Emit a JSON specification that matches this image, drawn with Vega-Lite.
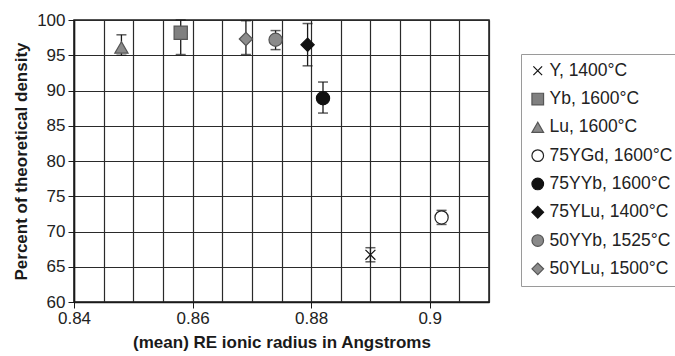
{
  "$schema": "https://vega.github.io/schema/vega-lite/v6.json",
  "autosize": {"type": "none"},
  "width": 415,
  "height": 282,
  "padding": {"left": 74, "top": 20, "right": 186, "bottom": 54},
  "background": "white",
  "config": {
    "font": "Liberation Sans",
    "view": {"stroke": "#1a1a1a", "strokeWidth": 1.5},
    "axis": {
      "labelFont": "Liberation Sans",
      "labelFontSize": 17,
      "labelColor": "#222",
      "titleFont": "Liberation Sans",
      "titleFontSize": 17,
      "titleFontWeight": "bold",
      "titleColor": "#1a1a1a",
      "domainColor": "#1a1a1a",
      "domainWidth": 1.5,
      "tickColor": "#1a1a1a",
      "tickSize": 6,
      "gridColor": "#2a2a2a",
      "gridWidth": 1.2,
      "gridOpacity": 1
    },
    "legend": {
      "labelFont": "Liberation Sans",
      "labelFontSize": 17.5,
      "labelColor": "#222"
    }
  },
  "data": {
    "values": [
      {"series": "Y, 1400°C", "x": 0.89, "y": 66.7, "lo": 65.7, "hi": 67.7},
      {"series": "Yb, 1600°C", "x": 0.858, "y": 98.2, "lo": 95.1, "hi": 100},
      {"series": "Lu, 1600°C", "x": 0.848, "y": 96.1, "lo": 95.0, "hi": 97.9},
      {"series": "75YGd, 1600°C", "x": 0.902, "y": 72.0, "lo": 71.0, "hi": 73.0},
      {"series": "75YYb, 1600°C", "x": 0.882, "y": 88.9, "lo": 86.8, "hi": 91.2},
      {"series": "75YLu, 1400°C", "x": 0.8794, "y": 96.5, "lo": 93.5, "hi": 99.5},
      {"series": "50YYb, 1525°C", "x": 0.874, "y": 97.2, "lo": 95.8, "hi": 98.5},
      {"series": "50YLu, 1500°C", "x": 0.869, "y": 97.3, "lo": 95.1, "hi": 99.9}
    ]
  },
  "encoding": {
    "x": {
      "field": "x",
      "type": "quantitative",
      "scale": {"domain": [0.84, 0.91], "nice": false, "zero": false},
      "axis": {
        "title": "(mean) RE ionic radius in Angstroms",
        "values": [0.84, 0.845, 0.85, 0.855, 0.86, 0.865, 0.87, 0.875, 0.88, 0.885, 0.89, 0.895, 0.9, 0.905, 0.91],
        "labelExpr": "abs(datum.value*50 - round(datum.value*50)) < 0.001 ? format(datum.value, '~g') : ''",
        "labelOverlap": false,
        "labelFlush": false,
        "labelBound": false,
        "labelPadding": 2,
        "titlePadding": 8,
        "grid": true,
        "tickOpacity": {"condition": {"test": "abs(datum.value*50 - round(datum.value*50)) < 0.001", "value": 1}, "value": 0}
      }
    },
    "y": {
      "field": "y",
      "type": "quantitative",
      "scale": {"domain": [60, 100], "nice": false, "zero": false},
      "axis": {
        "title": "Percent of theoretical density",
        "values": [60, 65, 70, 75, 80, 85, 90, 95, 100],
        "labelPadding": 3,
        "titlePadding": 6,
        "grid": true
      }
    }
  },
  "layer": [
    {
      "mark": {"type": "rule", "color": "#1a1a1a", "strokeWidth": 1.3},
      "encoding": {
        "y": {"field": "lo", "type": "quantitative"},
        "y2": {"field": "hi"}
      }
    },
    {
      "mark": {"type": "tick", "orient": "horizontal", "size": 10, "thickness": 1.5, "color": "#1a1a1a"},
      "encoding": {"y": {"field": "lo", "type": "quantitative"}}
    },
    {
      "mark": {"type": "tick", "orient": "horizontal", "size": 10, "thickness": 1.5, "color": "#1a1a1a"},
      "encoding": {"y": {"field": "hi", "type": "quantitative"}}
    },
    {
      "mark": {"type": "point", "size": 175, "strokeWidth": 1.2, "opacity": 1, "fillOpacity": 1},
      "encoding": {
        "shape": {
          "field": "series", "type": "nominal",
          "scale": {
            "domain": ["Y, 1400°C", "Yb, 1600°C", "Lu, 1600°C", "75YGd, 1600°C", "75YYb, 1600°C", "75YLu, 1400°C", "50YYb, 1525°C", "50YLu, 1500°C"],
            "range": ["M-0.75,-0.75L0.75,0.75M0.75,-0.75L-0.75,0.75", "square", "triangle-up", "circle", "circle", "diamond", "circle", "diamond"]
          },
          "legend": {
            "title": null,
            "orient": "none",
            "legendX": 447,
            "legendY": 34,
            "strokeColor": "#9a9a9a",
            "fillColor": "white",
            "padding": 8,
            "rowPadding": 9.3,
            "symbolSize": 135,
            "symbolStrokeWidth": 1.2,
            "labelOffset": 3,
            "symbolOffset": 0
          }
        },
        "fill": {
          "field": "series", "type": "nominal",
          "scale": {
            "domain": ["Y, 1400°C", "Yb, 1600°C", "Lu, 1600°C", "75YGd, 1600°C", "75YYb, 1600°C", "75YLu, 1400°C", "50YYb, 1525°C", "50YLu, 1500°C"],
            "range": ["white", "#808080", "#8a8a8a", "white", "#111111", "#111111", "#8a8a8a", "#8c8c8c"]
          },
          "legend": {
            "title": null,
            "orient": "none",
            "legendX": 447,
            "legendY": 34
          }
        },
        "stroke": {
          "field": "series", "type": "nominal",
          "scale": {
            "domain": ["Y, 1400°C", "Yb, 1600°C", "Lu, 1600°C", "75YGd, 1600°C", "75YYb, 1600°C", "75YLu, 1400°C", "50YYb, 1525°C", "50YLu, 1500°C"],
            "range": ["#111111", "#555555", "#555555", "#222222", "#111111", "#111111", "#555555", "#555555"]
          },
          "legend": {
            "title": null,
            "orient": "none",
            "legendX": 447,
            "legendY": 34
          }
        }
      }
    }
  ]
}
